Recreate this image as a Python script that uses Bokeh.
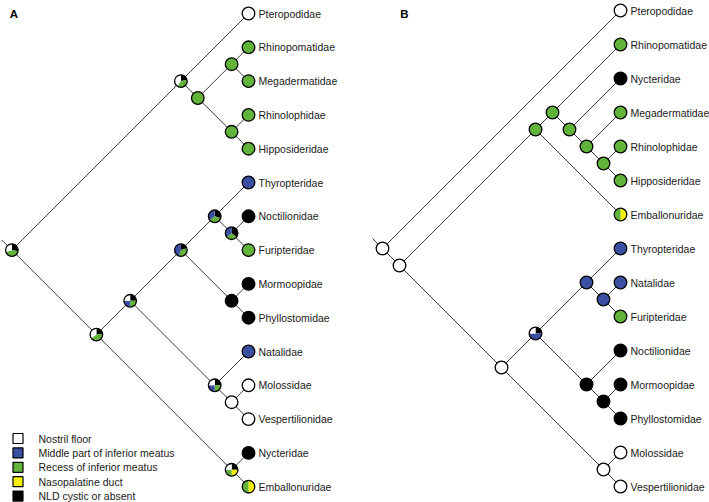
import math
from bokeh.plotting import figure
from bokeh.models import Range1d
from bokeh.embed import file_html
from bokeh.resources import INLINE
from bokeh.core.properties import value

# ---------------- data ----------------
# clockwise drawing order of states in the pies, starting at 12 o'clock
PIE_ORDER = ["black", "yellow", "green", "blue", "white"]
STATE_COLORS = {"white": "#ffffff", "blue": "#3b4fa2", "green": "#62b33a",
                "yellow": "#f4f000", "black": "#000000"}
LEGEND_STATES = ["white", "blue", "green", "yellow", "black"]
LEGEND_LABELS = ["Nostril floor", "Middle part of inferior meatus",
                 "Recess of inferior meatus", "Nasopalatine duct",
                 "NLD cystic or absent"]

# Panel A topology
A_TREE = (("Pteropodidae", (("Rhinopomatidae", "Megadermatidae"),
                            ("Rhinolophidae", "Hipposideridae"))),
          (((("Thyropteridae", ("Noctilionidae", "Furipteridae")),
             ("Mormoopidae", "Phyllostomidae")),
            ("Natalidae", ("Molossidae", "Vespertilionidae"))),
           ("Nycteridae", "Emballonuridae")))

A_TIP_STATES = {
    "Pteropodidae": {"white": 1.0}, "Rhinopomatidae": {"green": 1.0},
    "Megadermatidae": {"green": 1.0}, "Rhinolophidae": {"green": 1.0},
    "Hipposideridae": {"green": 1.0}, "Thyropteridae": {"blue": 1.0},
    "Noctilionidae": {"black": 1.0}, "Furipteridae": {"green": 1.0},
    "Mormoopidae": {"black": 1.0}, "Phyllostomidae": {"black": 1.0},
    "Natalidae": {"blue": 1.0}, "Molossidae": {"white": 1.0},
    "Vespertilionidae": {"white": 1.0}, "Nycteridae": {"black": 1.0},
    "Emballonuridae": {"yellow": 0.5, "green": 0.5},
}

# internal nodes keyed by (first tip, last tip) of the clade
A_NODE_CLADES = [
    ("Pteropodidae", "Emballonuridae"),
    ("Pteropodidae", "Hipposideridae"),
    ("Rhinopomatidae", "Hipposideridae"),
    ("Rhinopomatidae", "Megadermatidae"),
    ("Rhinolophidae", "Hipposideridae"),
    ("Thyropteridae", "Emballonuridae"),
    ("Thyropteridae", "Vespertilionidae"),
    ("Thyropteridae", "Phyllostomidae"),
    ("Thyropteridae", "Furipteridae"),
    ("Noctilionidae", "Furipteridae"),
    ("Mormoopidae", "Phyllostomidae"),
    ("Natalidae", "Vespertilionidae"),
    ("Molossidae", "Vespertilionidae"),
    ("Nycteridae", "Emballonuridae"),
]
A_NODE_STATES = [
    {"black": 0.28, "green": 0.42, "white": 0.30},
    {"black": 0.22, "green": 0.38, "white": 0.40},
    {"green": 1.0},
    {"green": 1.0},
    {"green": 1.0},
    {"black": 0.25, "green": 0.40, "white": 0.35},
    {"black": 0.25, "green": 0.25, "blue": 0.25, "white": 0.25},
    {"black": 0.20, "green": 0.35, "blue": 0.45},
    {"black": 0.30, "green": 0.35, "blue": 0.35},
    {"black": 0.35, "green": 0.30, "blue": 0.35},
    {"black": 1.0},
    {"black": 0.25, "green": 0.25, "blue": 0.25, "white": 0.25},
    {"white": 1.0},
    {"black": 0.25, "yellow": 0.25, "green": 0.25, "white": 0.25},
]

# Panel B topology
B_TREE = ("Pteropodidae",
          ((("Rhinopomatidae", ("Nycteridae", ("Megadermatidae",
                                               ("Rhinolophidae", "Hipposideridae")))),
             "Emballonuridae"),
           ((("Thyropteridae", ("Natalidae", "Furipteridae")),
             ("Noctilionidae", ("Mormoopidae", "Phyllostomidae"))),
            ("Molossidae", "Vespertilionidae"))))

B_TIP_STATES = {
    "Pteropodidae": {"white": 1.0}, "Rhinopomatidae": {"green": 1.0},
    "Nycteridae": {"black": 1.0}, "Megadermatidae": {"green": 1.0},
    "Rhinolophidae": {"green": 1.0}, "Hipposideridae": {"green": 1.0},
    "Emballonuridae": {"yellow": 0.5, "green": 0.5},
    "Thyropteridae": {"blue": 1.0}, "Natalidae": {"blue": 1.0},
    "Furipteridae": {"green": 1.0}, "Noctilionidae": {"black": 1.0},
    "Mormoopidae": {"black": 1.0}, "Phyllostomidae": {"black": 1.0},
    "Molossidae": {"white": 1.0}, "Vespertilionidae": {"white": 1.0},
}

B_NODE_CLADES = [
    ("Pteropodidae", "Vespertilionidae"),
    ("Rhinopomatidae", "Vespertilionidae"),
    ("Rhinopomatidae", "Emballonuridae"),
    ("Rhinopomatidae", "Hipposideridae"),
    ("Nycteridae", "Hipposideridae"),
    ("Megadermatidae", "Hipposideridae"),
    ("Rhinolophidae", "Hipposideridae"),
    ("Thyropteridae", "Vespertilionidae"),
    ("Thyropteridae", "Phyllostomidae"),
    ("Thyropteridae", "Furipteridae"),
    ("Natalidae", "Furipteridae"),
    ("Noctilionidae", "Phyllostomidae"),
    ("Mormoopidae", "Phyllostomidae"),
    ("Molossidae", "Vespertilionidae"),
]
B_NODE_STATES = [
    {"white": 1.0},
    {"white": 1.0},
    {"green": 1.0},
    {"green": 1.0},
    {"green": 1.0},
    {"green": 1.0},
    {"green": 1.0},
    {"white": 1.0},
    {"black": 0.25, "blue": 0.50, "white": 0.25},
    {"blue": 1.0},
    {"blue": 1.0},
    {"black": 1.0},
    {"black": 1.0},
    {"white": 1.0},
]

# ---------------- layout (screen-like units) ----------------
A_TIP_X, A_TIP_Y0, A_TIP_DY = 248, 13, 33.8
B_TIP_X, B_TIP_Y0, B_TIP_DY = 620, 10, 34.0


def layout(tree, tip_x, y0, dy):
    tips, nodes, edges = [], {}, []

    def rec(t):
        if isinstance(t, str):
            i = len(tips)
            tips.append(t)
            y = y0 + i * dy
            nodes[(t, t)] = (tip_x, y)
            return (tip_x, y, t, t, y, y)
        kids = [rec(c) for c in t]
        ymin, ymax = kids[0][4], kids[-1][5]
        x = tip_x - (ymax - ymin) / 2.0
        y = (ymin + ymax) / 2.0
        key = (kids[0][2], kids[-1][3])
        nodes[key] = (x, y)
        for k in kids:
            edges.append(((x, y), (k[0], k[1])))
        return (x, y, key[0], key[1], ymin, ymax)

    root = rec(tree)
    return tips, nodes, edges, (root[0], root[1])


p = figure(width=709, height=502, x_range=Range1d(0, 709), y_range=Range1d(-502, 0),
           output_backend="svg", toolbar_location=None, min_border=0,
           x_axis_location=None, y_axis_location=None)
p.grid.visible = False
p.outline_line_color = None

R = 6.3
LINE_COL = "#3a3a3a"
FONT = value("Liberation Sans")


def draw_panel(tree, tip_states, node_clades, node_states, tip_x, y0, dy):
    tips, nodes, edges, root = layout(tree, tip_x, y0, dy)
    xs = [[a[0], b[0]] for a, b in edges]
    ys = [[-a[1], -b[1]] for a, b in edges]
    # root stub
    xs.append([root[0] - 10, root[0]])
    ys.append([-(root[1] - 10), -root[1]])
    p.multi_line(xs, ys, line_color=LINE_COL, line_width=1.0)

    comps = []
    for name in tips:
        comps.append((nodes[(name, name)], tip_states[name]))
    for clade, st in zip(node_clades, node_states):
        comps.append((nodes[clade], st))

    fx, fy, fc = [], [], []
    wx, wy, ws, we, wc = [], [], [], [], []
    for (x, y), st in comps:
        if len(st) == 1:
            fx.append(x); fy.append(-y); fc.append(STATE_COLORS[list(st)[0]])
            continue
        fx.append(x); fy.append(-y); fc.append("#ffffff")
        cum = 0.0
        for s in PIE_ORDER:
            f = st.get(s, 0.0)
            if f <= 0:
                continue
            wx.append(x); wy.append(-y)
            ws.append(math.pi / 2 - cum * 2 * math.pi)
            we.append(math.pi / 2 - (cum + f) * 2 * math.pi)
            wc.append(STATE_COLORS[s])
            cum += f
    p.scatter(fx, fy, size=2 * R, fill_color=fc, line_color=None)
    if wx:
        p.wedge(wx, wy, radius=R, radius_units="screen", start_angle=ws,
                end_angle=we, direction="clock", fill_color=wc, line_color=None)
    p.scatter(fx, fy, size=2 * R, fill_color=None, line_color="black", line_width=1.3)

    lx = [nodes[(n, n)][0] + 10 for n in tips]
    ly = [-nodes[(n, n)][1] for n in tips]
    p.text(lx, ly, text=tips, text_font=FONT, text_font_size="10.5px",
           text_baseline="middle", text_align="left", text_color="#1a1a1a")


draw_panel(A_TREE, A_TIP_STATES, A_NODE_CLADES, A_NODE_STATES, A_TIP_X, A_TIP_Y0, A_TIP_DY)
draw_panel(B_TREE, B_TIP_STATES, B_NODE_CLADES, B_NODE_STATES, B_TIP_X, B_TIP_Y0, B_TIP_DY)

# panel letters
p.text([13.5, 404], [-13.5, -13.5], text=["A", "B"], text_font=value("Liberation Sans"),
       text_font_size="11.5px", text_font_style="bold", text_align="center",
       text_baseline="middle", text_color="black")

# legend
LEG_X, LEG_Y0, LEG_DY = 17.5, 438, 14.4
leg_y = [-(LEG_Y0 + i * LEG_DY) for i in range(len(LEGEND_STATES))]
p.rect([LEG_X] * len(LEGEND_STATES), leg_y, width=10, height=10,
       width_units="screen", height_units="screen",
       fill_color=[STATE_COLORS[s] for s in LEGEND_STATES], line_color="black", line_width=1.2)
p.text([38] * len(LEGEND_LABELS), leg_y, text=LEGEND_LABELS, text_font=FONT,
       text_font_size="10.5px", text_baseline="middle", text_align="left", text_color="#1a1a1a")

open("out.html", "w").write(file_html(p, INLINE))
